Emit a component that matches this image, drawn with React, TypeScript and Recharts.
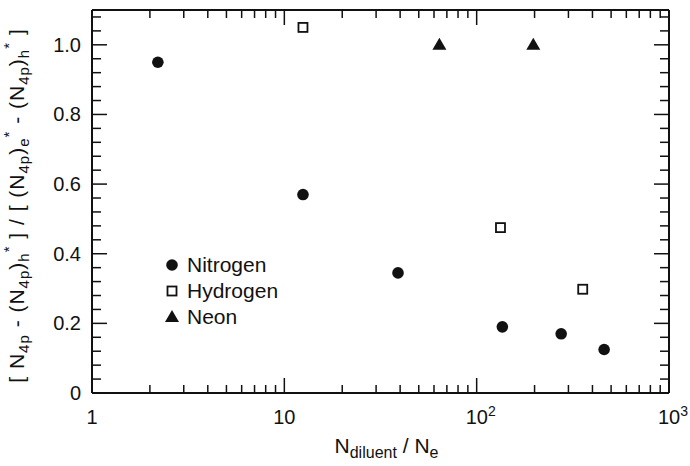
import React from "react";
import { ScatterChart, Scatter, XAxis, YAxis } from "recharts";

const nitrogenX = [2.2, 12.5, 39, 136, 275, 460];
const nitrogenY = [0.95, 0.57, 0.345, 0.19, 0.17, 0.125];
const hydrogenX = [12.5, 133, 356];
const hydrogenY = [1.05, 0.475, 0.298];
const neonX = [64, 197];
const neonY = [1.0, 1.0];

const xMajorTicks = [1, 10, 100, 1000];
const xTicks = [
  1, 2, 3, 4, 5, 6, 7, 8, 9,
  10, 20, 30, 40, 50, 60, 70, 80, 90,
  100, 200, 300, 400, 500, 600, 700, 800, 900, 1000,
];
const yTicks = [
  0, 0.04, 0.08, 0.12, 0.16, 0.2, 0.24, 0.28, 0.32, 0.36, 0.4, 0.44, 0.48,
  0.52, 0.56, 0.6, 0.64, 0.68, 0.72, 0.76, 0.8, 0.84, 0.88, 0.92, 0.96, 1.0,
  1.04, 1.08,
];
const yMajorTicks = [0, 0.2, 0.4, 0.6, 0.8, 1.0];

const toPoints = (xs: number[], ys: number[]) =>
  xs.map((x, i) => ({ x, y: ys[i] }));

const nitrogen = toPoints(nitrogenX, nitrogenY);
const hydrogen = toPoints(hydrogenX, hydrogenY);
const neon = toPoints(neonX, neonY);

const FONT = "'Liberation Sans', Arial, Helvetica, sans-serif";
const INK = "#111";

const isMajorY = (v: number) => yMajorTicks.some((m) => Math.abs(m - v) < 1e-6);

function Circle({ cx, cy }: any) {
  return <circle cx={cx} cy={cy} r={5.8} fill={INK} />;
}
function Square({ cx, cy }: any) {
  return (
    <rect x={cx - 4.5} y={cy - 4.5} width={9} height={9} fill="#fff" stroke={INK} strokeWidth={1.8} />
  );
}
function Triangle({ cx, cy }: any) {
  return (
    <path d={`M${cx},${cy - 7} L${cx + 7},${cy + 5} L${cx - 7},${cy + 5} Z`} fill={INK} />
  );
}
const Nothing = () => <g />;

function BottomTick({ x, y, payload }: any) {
  const v = payload.value;
  const major = xMajorTicks.includes(v);
  const sup = v === 100 ? "2" : v === 1000 ? "3" : null;
  return (
    <g>
      <line x1={x} x2={x} y1={y} y2={y - (major ? 15 : 8)} stroke={INK} strokeWidth={1.5} />
      {major && !sup && (
        <text x={x} y={y + 31} textAnchor="middle" fontSize={20} fontFamily={FONT} fill={INK}>
          {v}
        </text>
      )}
      {major && sup && (
        <text x={x - 11} y={y + 31} textAnchor="start" fontSize={20} fontFamily={FONT} fill={INK}>
          10
          <tspan dy={-8} fontSize={14}>
            {sup}
          </tspan>
        </text>
      )}
    </g>
  );
}

function TopTick({ x, y, payload }: any) {
  const major = xMajorTicks.includes(payload.value);
  return <line x1={x} x2={x} y1={y} y2={y + (major ? 15 : 8)} stroke={INK} strokeWidth={1.5} />;
}

function LeftTick({ x, y, payload }: any) {
  const v = payload.value;
  const major = isMajorY(v);
  return (
    <g>
      <line x1={x} x2={x + (major ? 15 : 9)} y1={y} y2={y} stroke={INK} strokeWidth={1.5} />
      {major && (
        <text x={x - 11} y={y + 7} textAnchor="end" fontSize={20} fontFamily={FONT} fill={INK}>
          {v === 0 ? "0" : v.toFixed(1)}
        </text>
      )}
    </g>
  );
}

function RightTick({ x, y, payload }: any) {
  const major = isMajorY(payload.value);
  return <line x1={x} x2={x - (major ? 15 : 9)} y1={y} y2={y} stroke={INK} strokeWidth={1.5} />;
}

function XTitle({ viewBox }: any) {
  const cx = viewBox.x + viewBox.width / 2 + 6;
  return (
    <text x={cx} y={viewBox.y + 60} textAnchor="middle" fontSize={21} fontFamily={FONT} fill={INK}>
      N
      <tspan dy={5} fontSize={16}>diluent</tspan>
      <tspan dy={-5}> / N</tspan>
      <tspan dy={5} fontSize={16}>e</tspan>
    </text>
  );
}

function YTitle({ viewBox }: any) {
  const cx = 24;
  const cy = viewBox.y + viewBox.height / 2 + 4;
  const sub = 15;
  return (
    <text
      x={cx}
      y={cy}
      transform={`rotate(-90 ${cx} ${cy})`}
      textAnchor="middle"
      fontSize={21}
      letterSpacing={1}
      fontFamily={FONT}
      fill={INK}
    >
      [ N<tspan dy={5} fontSize={sub}>4p</tspan>
      <tspan dy={-5}> - (N</tspan>
      <tspan dy={5} fontSize={sub}>4p</tspan>
      <tspan dy={-5}>)</tspan>
      <tspan dy={5} fontSize={sub}>h</tspan>
      <tspan dy={-15} fontSize={sub}>*</tspan>
      <tspan dy={10}> ] / [ (N</tspan>
      <tspan dy={5} fontSize={sub}>4p</tspan>
      <tspan dy={-5}>)</tspan>
      <tspan dy={5} fontSize={sub}>e</tspan>
      <tspan dy={-15} fontSize={sub}>*</tspan>
      <tspan dy={10}> - (N</tspan>
      <tspan dy={5} fontSize={sub}>4p</tspan>
      <tspan dy={-5}>)</tspan>
      <tspan dy={5} fontSize={sub}>h</tspan>
      <tspan dy={-15} fontSize={sub}>*</tspan>
      <tspan dy={10}> ]</tspan>
    </text>
  );
}

const legendItems = [
  { name: "Nitrogen", Icon: Circle },
  { name: "Hydrogen", Icon: Square },
  { name: "Neon", Icon: Triangle },
];

function LegendBox() {
  return (
    <div
      style={{
        position: "absolute",
        left: 164,
        top: 252,
        fontFamily: FONT,
        fontSize: 21,
        color: INK,
        lineHeight: "26px",
      }}
    >
      {legendItems.map(({ name, Icon }) => (
        <div key={name} style={{ display: "flex", alignItems: "center" }}>
          <svg width={16} height={16} style={{ marginRight: 7 }}>
            <Icon cx={8} cy={8} />
          </svg>
          {name}
        </div>
      ))}
    </div>
  );
}

export default function App() {
  return (
    <div style={{ position: "relative", width: 690, height: 466, background: "#fff" }}>
      <style>{`body{margin:0;background:#fff}`}</style>
      <ScatterChart width={690} height={466} margin={{ top: 9, right: 20, bottom: 0, left: 0 }}>
        <XAxis
          dataKey="x"
          type="number"
          scale="log"
          domain={[1, 1000]}
          allowDataOverflow
          ticks={xTicks}
          interval={0}
          tickSize={0}
          tickMargin={0}
          tickLine={false}
          tick={<BottomTick />}
          axisLine={{ stroke: INK, strokeWidth: 2 }}
          height={73}
          label={<XTitle />}
        />
        <XAxis
          xAxisId="top"
          orientation="top"
          dataKey="x"
          type="number"
          scale="log"
          domain={[1, 1000]}
          allowDataOverflow
          ticks={xTicks}
          interval={0}
          tickSize={0}
          tickMargin={0}
          tickLine={false}
          tick={<TopTick />}
          axisLine={{ stroke: INK, strokeWidth: 2 }}
          height={1}
        />
        <YAxis
          dataKey="y"
          type="number"
          domain={[0, 1.1]}
          allowDataOverflow
          ticks={yTicks}
          interval={0}
          tickSize={0}
          tickMargin={0}
          tickLine={false}
          tick={<LeftTick />}
          axisLine={{ stroke: INK, strokeWidth: 2 }}
          width={92}
          label={<YTitle />}
        />
        <YAxis
          yAxisId="right"
          orientation="right"
          dataKey="y"
          type="number"
          domain={[0, 1.1]}
          allowDataOverflow
          ticks={yTicks}
          interval={0}
          tickSize={0}
          tickMargin={0}
          tickLine={false}
          tick={<RightTick />}
          axisLine={{ stroke: INK, strokeWidth: 2 }}
          width={1}
        />
        <Scatter name="Nitrogen" data={nitrogen} shape={<Circle />} isAnimationActive={false} />
        <Scatter name="Hydrogen" data={hydrogen} shape={<Square />} isAnimationActive={false} />
        <Scatter name="Neon" data={neon} shape={<Triangle />} isAnimationActive={false} />
        <Scatter
          name="frame"
          data={neon}
          xAxisId="top"
          yAxisId="right"
          shape={<Nothing />}
          legendType="none"
          isAnimationActive={false}
        />
      </ScatterChart>
      <LegendBox />
    </div>
  );
}
